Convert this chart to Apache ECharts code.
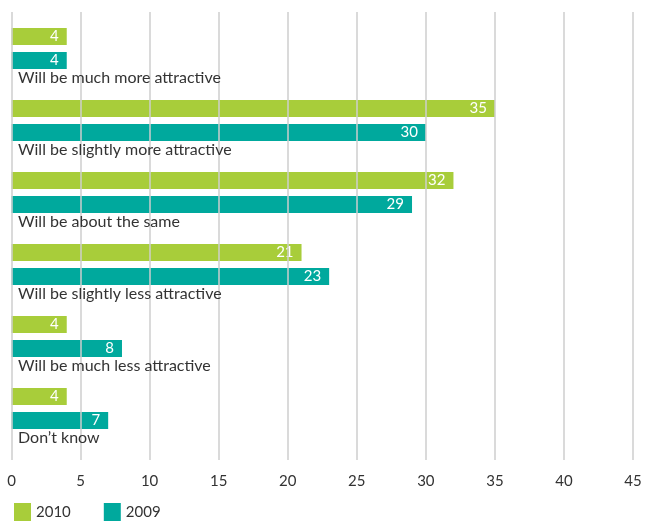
<!DOCTYPE html>
<html>
<head>
<meta charset="utf-8">
<script src="https://cdn.jsdelivr.net/npm/echarts@6/dist/echarts.min.js"></script>
<style>
  html, body { margin: 0; padding: 0; background: #fff; }
  #chart { width: 650px; height: 521px; }
</style>
</head>
<body>
<div id="chart"></div>
<script>
// Survey answers, top to bottom
const categories = [
  'Will be much more attractive',
  'Will be slightly more attractive',
  'Will be about the same',
  'Will be slightly less attractive',
  'Will be much less attractive',
  'Don\u2019t know'
];
const values2010 = [4, 35, 32, 21, 4, 4];
const values2009 = [4, 30, 29, 23, 8, 7];
const xTicks = [0, 45, 5]; // min, max, interval

const FONT = 'Lato';
const GREEN = '#a8cd3a';
const TEAL = '#00a99d';
const TEXT = '#333333';

const chart = echarts.init(document.getElementById('chart'), null, { renderer: 'canvas' });

const barLabel = {
  show: true,
  position: 'insideRight',
  distance: 8,
  color: '#ffffff',
  fontFamily: FONT,
  fontSize: 15
};

chart.setOption({
  animation: false,
  textStyle: { fontFamily: FONT },
  legend: {
    left: 9,
    top: 498,
    itemWidth: 17,
    itemHeight: 19,
    itemGap: 33,
    icon: 'rect',
    textStyle: { color: TEXT, fontSize: 15, fontFamily: FONT },
    data: ['2010', '2009']
  },
  grid: [
    // bars
    { left: 11.5, right: 17, top: 12.5, height: 432 },
    // vertical grid lines and tick labels
    { left: 11.5, right: 17, top: 12, bottom: 61 }
  ],
  xAxis: [
    {
      gridIndex: 0, type: 'value', min: xTicks[0], max: xTicks[1], interval: xTicks[2],
      axisLine: { show: false }, axisTick: { show: false },
      axisLabel: { show: false }, splitLine: { show: false }
    },
    {
      gridIndex: 1, type: 'value', min: xTicks[0], max: xTicks[1], interval: xTicks[2],
      z: 5,
      axisLine: { show: false }, axisTick: { show: false },
      axisLabel: { color: TEXT, fontSize: 15, fontFamily: FONT, margin: 14 },
      splitLine: { show: true, lineStyle: { color: 'rgba(205,205,205,0.75)', width: 2 } }
    }
  ],
  yAxis: [
    {
      gridIndex: 0, type: 'category', data: categories, inverse: true,
      z: 6,
      axisLine: { show: false }, axisTick: { show: false }, splitLine: { show: false },
      axisLabel: {
        inside: true, margin: 6.5, align: 'left', verticalAlign: 'top',
        lineHeight: 58,
        color: TEXT, fontSize: 16, fontFamily: FONT
      }
    },
    {
      gridIndex: 1, type: 'category', data: categories,
      show: false
    }
  ],
  series: [
    {
      name: '2010', type: 'bar', xAxisIndex: 0, yAxisIndex: 0,
      data: values2010, barWidth: 17, barGap: '41%',
      itemStyle: { color: GREEN }, label: barLabel
    },
    {
      name: '2009', type: 'bar', xAxisIndex: 0, yAxisIndex: 0,
      data: values2009, barWidth: 17, barGap: '41%',
      itemStyle: { color: TEAL }, label: barLabel
    }
  ]
});
</script>
</body>
</html>
